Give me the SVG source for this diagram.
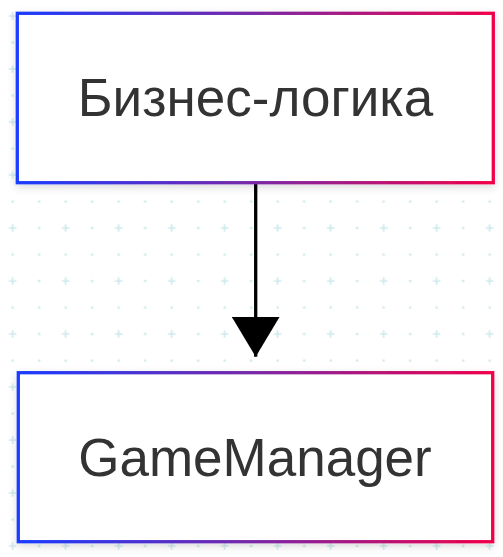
<svg xmlns="http://www.w3.org/2000/svg" width="503" height="557" viewBox="0 0 503 557">
  <style>
    .box { fill: #ffffff; stroke: url(#edge); stroke-width: 3.3; filter: url(#shadow); }
    .label { font-family: "Liberation Sans", Arial, sans-serif; font-size: 53px; fill: #333333; text-anchor: middle; }
    .grid-dot { fill: #cde9ec; }
    .grid-plus { stroke: #cde9ec; stroke-width: 1.6; }
    .conn { stroke: #000000; stroke-width: 3.3; fill: none; }
  </style>
  <defs>
    <linearGradient id="edge" x1="0" y1="0" x2="1" y2="0">
      <stop offset="0" stop-color="#1a3cff"/>
      <stop offset="0.5" stop-color="#7a28a6"/>
      <stop offset="1" stop-color="#f0004a"/>
    </linearGradient>
    <filter id="shadow" x="-10%" y="-10%" width="120%" height="125%">
      <feDropShadow dx="0" dy="3" stdDeviation="4" flood-color="#000000" flood-opacity="0.14"/>
    </filter>
    <pattern id="grid" patternUnits="userSpaceOnUse" x="-0.55" y="2.75" width="53" height="53">
      <path class="grid-plus" d="M9.5 13.25h7.5M13.25 9.5v7.5"/>
      <circle class="grid-dot" cx="39.75" cy="13.25" r="1.3"/>
      <circle class="grid-dot" cx="13.25" cy="39.75" r="1.3"/>
      <circle class="grid-dot" cx="39.75" cy="39.75" r="1.3"/>
    </pattern>
    <marker id="arrow" markerUnits="userSpaceOnUse" markerWidth="40" markerHeight="48" refX="40" refY="24" orient="auto" viewBox="0 0 40 48">
      <path d="M0 0 L40 24 L0 48 Z" fill="#000000"/>
    </marker>
  </defs>
  <rect width="503" height="557" fill="#ffffff"/>
  <rect width="503" height="557" fill="url(#grid)"/>
  <g id="connectors">
    <line class="conn" x1="255.7" y1="184" x2="255.7" y2="356.7" marker-end="url(#arrow)"/>
  </g>
  <g id="node-business-logic">
    <rect class="box" x="17.3" y="13.3" width="476" height="169.4"/>
    <text class="label" x="255.5" y="115.5">Бизнес-логика</text>
  </g>
  <g id="node-gamemanager">
    <rect class="box" x="18.3" y="372.7" width="474.4" height="169"/>
    <text class="label" x="255" y="475.5">GameManager</text>
  </g>
</svg>
